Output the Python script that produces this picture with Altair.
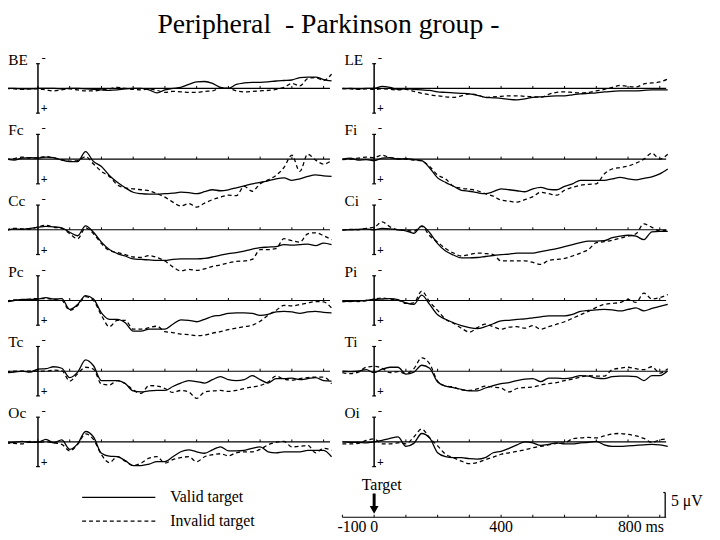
import altair as alt
import pandas as pd

# ---------------- data (µV, positive = downward as in the figure) ----------------
T_MS = [-100, -75, -50, -25, 0, 25, 50, 75, 100, 125, 150, 175, 200, 225, 250, 275,
        300, 325, 350, 375, 400, 425, 450, 475, 500, 525, 550, 575, 600, 625, 650, 675,
        700, 725, 750, 775, 800, 825, 850, 875, 900, 925]

LEFT_CHANNELS = ["BE", "Fc", "Cc", "Pc", "Tc", "Oc"]
RIGHT_CHANNELS = ["LE", "Fi", "Ci", "Pi", "Ti", "Oi"]

BE_valid = [0, 0, 0.1, 0.1, 0, 0, 0, 0.1,
            0, 0, 0.1, 0.2, 0.3, 0.4, 0.3, 0.1,
            0, 0, 0.3, 0.9, 0.3, 0, -0.2, -0.8,
            -1.3, -1.4, -1.0, -0.2, 0, -0.8, -1.1, -1.2,
            -1.2, -1.3, -1.5, -1.6, -1.7, -2.2, -2.3, -2.3, -1.8, -1.5]
BE_invalid = [0, 0.1, 0.2, 0.1, 0.1, 0.3, 0.5, 0.3,
              0.1, 0.3, 0.5, 0.5, 0.3, 0.1, -0.2, 0,
              0.2, 0.3, 0.1, 0.4, 0.8, 0.6, 0.7, 0.8,
              0.8, 0.6, 0.5, -0.1, 0, 0.5, 0.7, 0.6,
              0.5, 0.4, 0.2, -0.2, -1.0, -0.5, -2.0, -2.2, -1.6, -2.9]
Fc_valid = [0, 0.2, -0.2, -0.3, -0.2, -0.4, -0.3, 0.2,
            0.5, 0.5, -1.5, 0.5, 1.5, 3.3, 4.7, 5.8,
            6.7, 7.0, 7.1, 7.1, 7.0, 6.9, 6.7, 6.8,
            7.0, 6.6, 6.2, 6.4, 6.2, 5.8, 5.4, 5.0,
            4.7, 4.4, 4.0, 3.8, 4.3, 4.0, 3.5, 3.2, 3.4, 3.5]
Fc_invalid = [0.1, -0.1, -0.4, -0.2, -0.3, -0.5, -0.2, 0.1,
              0.4, 0.3, -0.5, 1.0, 2.5, 3.5, 5.2, 5.8,
              6.0, 6.2, 6.4, 7.0, 7.7, 8.7, 9.5, 9.0,
              9.7, 8.9, 8.2, 7.7, 7.3, 7.4, 5.5, 6.5,
              5.0, 4.2, 3.3, 1.7, -0.8, 2.5, -1.0, 0.2, 1.0, 0.3]
Cc_valid = [0.2, -0.2, -0.1, -0.3, -0.5, -0.7, -0.6, -0.4,
            0.5, 1.2, -0.8, 0.5, 2.5, 4.0, 4.8, 5.3,
            5.9, 6.0, 6.1, 6.2, 6.2, 6.0, 5.9, 5.9,
            5.9, 5.8, 5.5, 5.1, 4.8, 4.6, 4.3, 3.9,
            3.6, 3.5, 3.4, 3.0, 3.1, 3.0, 2.9, 3.2, 2.7, 3.0]
Cc_invalid = [0, -0.3, -0.2, -0.1, -0.6, -0.9, -0.5, -0.3,
              0.8, 1.8, -0.4, 0.8, 2.8, 4.2, 4.6, 5.0,
              5.5, 5.6, 5.2, 5.6, 6.3, 7.5, 8.3, 8.0,
              8.2, 7.9, 7.4, 7.1, 6.7, 6.4, 6.3, 6.0,
              4.0, 4.0, 3.8, 1.8, 2.2, 2.5, 0.8, 0.6, 1.2, 2.0]
Pc_valid = [0.3, 0, -0.2, -0.2, -0.3, -0.6, -0.3, -0.4,
            1.8, 0.8, -1.0, -0.3, 2.5, 3.8, 3.8, 4.5,
            6.2, 6.2, 5.8, 5.8, 5.8, 4.8, 3.9, 4.0,
            4.3, 3.8, 3.2, 3.0, 2.6, 2.5, 2.5, 2.6,
            3.0, 2.8, 2.3, 2.2, 2.3, 2.6, 2.3, 2.2, 2.4, 2.5]
Pc_invalid = [0.2, -0.1, -0.1, -0.3, -0.4, -0.4, -0.2, 0,
              2.0, 1.0, -0.8, 0, 3.0, 5.3, 4.0, 4.0,
              5.8, 5.8, 5.5, 5.2, 6.3, 6.5, 6.8, 6.9,
              7.1, 7.0, 6.6, 6.3, 5.9, 5.6, 5.3, 5.0,
              4.2, 3.0, 2.0, 1.0, 1.1, 0.8, 0.5, 0.2, 0.3, 1.5]
Tc_valid = [0.3, 0.2, 0, 0.2, -0.4, -0.5, -0.9, -0.6,
            1.3, 0.2, -2.3, -1.1, 1.9, 1.9, 1.9, 2.5,
            4.0, 4.2, 4.0, 3.9, 3.9, 3.1, 2.4, 1.9,
            2.1, 2.4, 1.7, 1.1, 1.7, 1.9, 1.7, 0.9,
            1.7, 2.4, 1.5, 1.5, 1.4, 1.7, 1.5, 1.3, 1.9, 2.0]
Tc_invalid = [0.1, 0, 0, 0, 0, 0, -0.2, -0.1,
              2.0, 0.5, -0.8, -0.4, 2.6, 2.8, 1.9, 2.5,
              3.8, 4.5, 2.9, 3.0, 3.5, 4.3, 3.9, 4.2,
              5.5, 4.2, 4.0, 3.9, 4.1, 3.9, 3.5, 3.2,
              2.9, 2.2, 1.0, 1.6, 1.8, 1.5, 1.3, 1.2, 1.2, 2.5]
Oc_valid = [0.2, 0.1, -0.1, 0.1, 0.1, -0.5, 0.2, -0.4,
            1.5, 0.4, -2.1, -1.0, 2.3, 2.9, 3.0, 3.8,
            4.8, 4.8, 4.5, 4.0, 4.0, 3.0, 2.0, 1.6,
            2.0, 2.3, 1.6, 1.0, 1.8, 1.8, 1.7, 1.3,
            1.0, 2.0, 2.2, 2.0, 2.0, 2.0, 1.7, 1.7, 1.7, 3.0]
Oc_invalid = [0.2, 0.3, 0.4, -0.1, 0.1, 0, 0.2, 0.5,
              1.8, 0.5, -1.6, -0.5, 2.6, 4.2, 3.0, 3.9,
              4.8, 4.3, 3.3, 3.0, 4.3, 3.6, 3.2, 3.0,
              4.0, 3.0, 2.6, 2.4, 2.8, 2.2, 2.0, 2.0,
              1.5, 0.6, 0.1, -0.1, 1.0, 0.9, 0.7, 2.2, 1.3, 1.7]
LE_valid = [0.1, 0, 0.1, 0, 0, -0.4, -0.2, 0.2,
            0.1, 0.2, 0.3, 0.4, 0.7, 0.8, 0.9, 1.0,
            1.1, 1.4, 1.8, 1.9, 2.0, 2.2, 2.3, 2.1,
            1.8, 1.7, 1.6, 1.5, 1.5, 1.3, 1.1, 1.0,
            0.9, 0.7, 0.6, 0.5, 0.5, 0.5, 0.4, 0.3, 0.3, 0.3]
LE_invalid = [0, 0.1, 0.2, 0.1, 0.2, 0.1, 0.2, 0.3,
              0.2, 0.6, 1.0, 1.3, 1.5, 1.7, 1.8, 1.5,
              1.1, 1.3, 1.8, 1.7, 1.6, 1.5, 1.5, 1.6,
              1.7, 1.8, 1.2, 0.8, 0.7, 0.8, 0.9, 0.8,
              0.5, 0.2, -0.2, -0.6, -0.4, -0.3, -0.9, -1.1, -1.3, -1.9]
Fi_valid = [0, -0.2, 0.2, 0.1, 0.3, -0.2, -0.3, 0,
            -0.1, 0.1, 0.3, 1.8, 3.8, 4.7, 5.5, 6.3,
            6.5, 6.8, 7.0, 6.6, 6.0, 6.2, 6.4, 6.6,
            6.0, 5.7, 6.1, 6.2, 5.5, 5.0, 4.3, 4.3,
            4.3, 4.3, 4.0, 3.7, 4.0, 4.2, 3.9, 3.6, 3.0, 2.0]
Fi_invalid = [0.1, 0, -0.2, -0.4, -0.3, -0.8, -0.3, -0.1,
              0, 0.2, 0.4, 1.5, 3.2, 4.0, 5.5, 5.9,
              6.1, 6.4, 7.0, 7.5, 8.3, 8.5, 8.7, 8.2,
              7.6, 6.7, 7.0, 7.3, 6.3, 5.7, 5.3, 5.1,
              5.0, 3.0, 2.0, 1.7, 1.4, 0.8, 0, -1.2, 0.0, -1.0]
Ci_valid = [0, 0, -0.1, -0.2, 0, -0.3, -0.2, 0,
            0.2, 0.7, -0.8, 0.6, 2.8, 4.3, 5.1, 5.7,
            5.7, 5.6, 5.4, 5.2, 5.0, 4.9, 4.7, 4.7,
            4.7, 4.4, 4.1, 3.8, 3.4, 3.0, 2.6, 2.3,
            2.3, 2.2, 1.6, 1.3, 1.1, 1.3, 2.0, 0.4, 0.3, 0.3]
Ci_invalid = [0.1, -0.1, 0, -0.3, -0.5, -1.6, -0.6, 0,
              0.1, 0.3, -0.7, 1.2, 2.5, 3.8, 4.7, 5.3,
              5.0, 4.7, 4.8, 5.0, 6.3, 6.3, 6.3, 6.3,
              6.6, 7.0, 6.2, 6.0, 5.8, 5.3, 4.7, 4.0,
              2.6, 2.4, 2.1, 1.7, 1.3, 0.8, -1.2, -0.5, 0.2, 0]
Pi_valid = [0.1, 0.2, 0.1, 0, -0.2, -0.3, -0.4, -0.2,
            0.5, 0.8, -1.1, 0.8, 2.9, 3.8, 4.5, 5.1,
            5.5, 5.7, 5.3, 4.7, 4.1, 4.0, 3.8, 3.7,
            3.5, 3.3, 3.1, 3.1, 3.1, 2.8, 2.2, 2.0,
            1.9, 1.8, 1.9, 2.1, 1.8, 1.5, 2.1, 1.6, 1.2, 0.8]
Pi_invalid = [0.3, 0.1, 0.2, 0, -0.3, -0.5, -0.3, -0.1,
              0.6, 0.5, -1.9, 0.3, 2.0, 3.8, 4.6, 5.6,
              6.4, 5.5, 4.8, 5.3, 5.8, 5.4, 5.3, 5.6,
              5.1, 5.8, 5.3, 4.8, 4.3, 3.6, 2.9, 2.2,
              1.4, 0.8, 0.6, 0.4, -0.2, 0.4, -1.5, -0.3, -0.6, -1.2]
Ti_valid = [0, 0.1, 0, -0.3, 0.3, -0.4, -0.8, -0.8,
            0.6, 0.2, -1.2, -0.6, 2.2, 3.0, 3.3, 3.7,
            4.0, 4.0, 3.4, 2.9, 2.5, 2.3, 1.9, 1.6,
            1.5, 2.1, 1.4, 1.4, 1.5, 1.3, 0.9, 1.0,
            1.4, 1.5, 1.1, 1.0, 1.0, 1.1, 1.9, 0.9, 0.9, -0.1]
Ti_invalid = [0.3, 0.5, 0.2, -0.8, -1.0, -0.6, 0.3, 0.1,
              0.5, -0.5, -2.7, -1.5, 2.0, 3.0, 3.2, 3.8,
              3.9, 3.6, 3.0, 3.2, 3.4, 4.2, 3.5, 3.3,
              3.2, 2.8, 2.5, 2.3, 1.9, 1.6, 1.2, 0.9,
              1.0, 1.0, -0.3, -0.6, -0.8, -0.5, -0.3, -0.9, 0.4, -0.5]
Oi_valid = [0, 0.1, 0.1, 0.2, 0, -0.3, -0.7, -1.0,
            0.9, 0.3, -1.7, -0.8, 2.2, 3.0, 3.2, 3.2,
            3.4, 3.5, 3.2, 2.2, 1.9, 1.3, 0.6, 0,
            0.2, 0.7, 0.5, 0.2, 0.4, 0.4, 0.2, 0.1,
            -0.1, 0.6, 0.9, 0.9, 0.8, 0.7, 0.6, 0.5, 0.6, 0.9]
Oi_invalid = [0.4, 0.4, 0.3, -0.3, -0.6, 0.4, 0.4, 0.2,
              0.4, -1.0, -2.6, -0.8, 0.8, 2.5, 3.2, 3.9,
              4.4, 4.2, 3.6, 3.1, 2.5, 2.2, 1.9, 1.6,
              1.2, 0.9, 0.6, 0.3, 0.2, -0.6, -0.8, -0.9,
              -0.8, -1.2, -1.6, -1.7, -1.5, -1.2, -0.7, 0.1, -0.4, -0.6]

VALID = {"BE": BE_valid, "Fc": Fc_valid, "Cc": Cc_valid, "Pc": Pc_valid, "Tc": Tc_valid, "Oc": Oc_valid,
         "LE": LE_valid, "Fi": Fi_valid, "Ci": Ci_valid, "Pi": Pi_valid, "Ti": Ti_valid, "Oi": Oi_valid}
INVALID = {"BE": BE_invalid, "Fc": Fc_invalid, "Cc": Cc_invalid, "Pc": Pc_invalid, "Tc": Tc_invalid,
           "Oc": Oc_invalid, "LE": LE_invalid, "Fi": Fi_invalid, "Ci": Ci_invalid, "Pi": Pi_invalid,
           "Ti": Ti_invalid, "Oi": Oi_invalid}

PANEL_TICKS_MS = [0, 100, 200, 300, 400, 500, 600, 700, 800, 900]
AXIS_TICKS_MS = [-100, 0, 100, 200, 300, 400, 500, 600, 700, 800, 900]
EPOCH = (-100, 920)
SCALE_UV = 5
TITLE = "Peripheral\u00a0\u00a0- Parkinson group -"

# ---------------- layout ----------------
W, H = 712, 532
ORIGIN = 8
PX_MS = 0.321
PX_UV = 5.0
COL_ZERO_PX = [38.3, 378.3]
ROW0_PX, ROW_STEP_PX = 86.3, 71.5
FONT = "Liberation Serif"
FS = 16


def xu(px):
    return (px - COL_ZERO_PX[0]) / PX_MS


def yu(py):
    return (py - ORIGIN) / PX_UV


COL_OFF = (COL_ZERO_PX[1] - COL_ZERO_PX[0]) / PX_MS


def base(r):
    return yu(ROW0_PX + r * ROW_STEP_PX)


XSC = alt.Scale(domain=[xu(ORIGIN), xu(ORIGIN + W)], nice=False, zero=False)
YSC = alt.Scale(domain=[0, H / PX_UV], reverse=True, nice=False, zero=False)
X = alt.X("x:Q", scale=XSC, axis=None)
Y = alt.Y("y:Q", scale=YSC, axis=None)

panels = []
for c, chans in enumerate([LEFT_CHANNELS, RIGHT_CHANNELS]):
    for r, ch in enumerate(chans):
        panels.append((c, r, ch))

rows = []
for c, r, ch in panels:
    for cond, src in (("valid", VALID), ("invalid", INVALID)):
        vals = src[ch]
        assert len(vals) == len(T_MS)
        for t, v in zip(T_MS, vals):
            rows.append({"ch": ch, "cond": cond, "t": t,
                         "x": t + c * COL_OFF, "y": base(r) + v})
lines = pd.DataFrame(rows)

base_df = pd.DataFrame([{"x": EPOCH[0] + c * COL_OFF, "x2": EPOCH[1] + c * COL_OFF, "y": base(r)}
                        for c, r, ch in panels])
tick_df = pd.DataFrame([{"x": t + c * COL_OFF, "y": base(r), "y2": base(r) - 0.5}
                        for c, r, ch in panels for t in PANEL_TICKS_MS])
vax_df = pd.DataFrame([{"x": c * COL_OFF, "y": base(r) - SCALE_UV, "y2": base(r) + SCALE_UV}
                       for c, r, ch in panels])
cap_df = pd.DataFrame([{"x": c * COL_OFF - 6, "x2": c * COL_OFF + 6, "y": base(r) + s * SCALE_UV}
                       for c, r, ch in panels for s in (-1, 1)])
lab_df = pd.DataFrame([{"x": xu(ORIGIN) + c * COL_OFF + 1, "y": base(r) - 5.8, "label": ch}
                       for c, r, ch in panels])
minus_df = pd.DataFrame([{"x": 11 + c * COL_OFF, "y": base(r) - 6.2, "label": "-"}
                         for c, r, ch in panels])
plus_df = pd.DataFrame([{"x": 9 + c * COL_OFF, "y": base(r) + 4.0, "label": "+"}
                        for c, r, ch in panels])

line_kw = dict(color="black", strokeWidth=1.3, interpolate="monotone")
valid_layer = alt.Chart(lines).transform_filter(alt.datum.cond == "valid").mark_line(**line_kw).encode(
    x=X, y=Y, detail="ch:N", order="t:Q")
invalid_layer = alt.Chart(lines).transform_filter(alt.datum.cond == "invalid").mark_line(
    strokeDash=[4, 3], **line_kw).encode(x=X, y=Y, detail="ch:N", order="t:Q")

base_layer = alt.Chart(base_df).mark_rule(color="black", strokeWidth=1.1).encode(x=X, x2="x2:Q", y=Y)
tick_layer = alt.Chart(tick_df).mark_rule(color="black", strokeWidth=1).encode(x=X, y=Y, y2="y2:Q")
vax_layer = alt.Chart(vax_df).mark_rule(color="black", strokeWidth=1.5).encode(x=X, y=Y, y2="y2:Q")
cap_layer = alt.Chart(cap_df).mark_rule(color="black", strokeWidth=1.2).encode(x=X, x2="x2:Q", y=Y)
lab_layer = alt.Chart(lab_df).mark_text(font=FONT, fontSize=15.5, align="left", baseline="middle",
                                        color="black").encode(x=X, y=Y, text="label:N")
minus_layer = alt.Chart(minus_df).mark_text(font=FONT, fontSize=13, align="left", baseline="middle",
                                            color="black").encode(x=X, y=Y, text="label:N")
plus_layer = alt.Chart(plus_df).mark_text(font=FONT, fontSize=12, fontWeight="bold", align="left",
                                          baseline="middle", color="black").encode(x=X, y=Y, text="label:N")

# legend
leg_lines = pd.DataFrame([
    {"x": xu(83), "x2": xu(157), "y": yu(500), "cond": "valid"},
    {"x": xu(83), "x2": xu(157), "y": yu(524), "cond": "invalid"},
])
leg_text = pd.DataFrame([
    {"x": xu(172), "y": yu(500), "label": "Valid target"},
    {"x": xu(172), "y": yu(524), "label": "Invalid target"},
])
leg_valid = alt.Chart(leg_lines).transform_filter(alt.datum.cond == "valid").mark_rule(
    color="black", strokeWidth=1.3).encode(x=X, x2="x2:Q", y=Y)
leg_invalid = alt.Chart(leg_lines).transform_filter(alt.datum.cond == "invalid").mark_rule(
    color="black", strokeWidth=1.3, strokeDash=[4, 3]).encode(x=X, x2="x2:Q", y=Y)
leg_txt = alt.Chart(leg_text).mark_text(font=FONT, fontSize=FS, align="left", baseline="middle",
                                        color="black").encode(x=X, y=Y, text="label:N")

# time axis (under right column)
AX_Y = yu(520)
ax_line = pd.DataFrame([{"x": EPOCH[0] + COL_OFF, "x2": EPOCH[1] + COL_OFF, "y": AX_Y}])
ax_ticks = pd.DataFrame([{"x": t + COL_OFF, "y": AX_Y, "y2": AX_Y - 0.5} for t in AXIS_TICKS_MS])
ax_labels_c = pd.DataFrame([{"x": t + COL_OFF, "y": yu(530), "label": s} for t, s in ((0, "0"), (400, "400"))])
ax_labels_r = pd.DataFrame([{"x": -24 + COL_OFF, "y": yu(530), "label": "-100"}])
ax_labels_l = pd.DataFrame([{"x": 768 + COL_OFF, "y": yu(530), "label": "800 ms"}])
axl = alt.Chart(ax_line).mark_rule(color="black", strokeWidth=1.2).encode(x=X, x2="x2:Q", y=Y)
axt = alt.Chart(ax_ticks).mark_rule(color="black", strokeWidth=1).encode(x=X, y=Y, y2="y2:Q")
axlc = alt.Chart(ax_labels_c).mark_text(font=FONT, fontSize=FS, align="center", baseline="middle",
                                        color="black").encode(x=X, y=Y, text="label:N")
axlr = alt.Chart(ax_labels_r).mark_text(font=FONT, fontSize=FS, align="right", baseline="middle",
                                        color="black").encode(x=X, y=Y, text="label:N")
axll = alt.Chart(ax_labels_l).mark_text(font=FONT, fontSize=FS, align="left", baseline="middle",
                                        color="black").encode(x=X, y=Y, text="label:N")

# target arrow
tgt_text = pd.DataFrame([{"x": 24 + COL_OFF, "y": yu(487), "label": "Target"}])
tgt_shaft = pd.DataFrame([{"x": COL_OFF, "y": yu(496), "y2": yu(509)}])
tgt_head = pd.DataFrame([{"x": COL_OFF, "y": yu(512.5)}])
tt = alt.Chart(tgt_text).mark_text(font=FONT, fontSize=FS, align="center", baseline="middle",
                                   color="black").encode(x=X, y=Y, text="label:N")
ts = alt.Chart(tgt_shaft).mark_rule(color="black", strokeWidth=3).encode(x=X, y=Y, y2="y2:Q")
th = alt.Chart(tgt_head).mark_point(shape="triangle-down", filled=True, size=80, color="black",
                                    opacity=1).encode(x=X, y=Y)

# 5 µV calibration bar
CAL_T = 917 + COL_OFF
cal_bar = pd.DataFrame([{"x": CAL_T, "y": AX_Y, "y2": AX_Y - SCALE_UV}])
cal_cap = pd.DataFrame([{"x": CAL_T - 6, "x2": CAL_T, "y": AX_Y - SCALE_UV}])
cal_txt = pd.DataFrame([{"x": CAL_T + 18, "y": yu(504), "label": "5 \u03bcV"}])
cb = alt.Chart(cal_bar).mark_rule(color="black", strokeWidth=1.3).encode(x=X, y=Y, y2="y2:Q")
cc = alt.Chart(cal_cap).mark_rule(color="black", strokeWidth=1.2).encode(x=X, x2="x2:Q", y=Y)
ct = alt.Chart(cal_txt).mark_text(font=FONT, fontSize=FS, align="left", baseline="middle",
                                  color="black").encode(x=X, y=Y, text="label:N")

# title
title_df = pd.DataFrame([{"x": xu(332), "y": yu(30.5), "label": TITLE}])
title = alt.Chart(title_df).mark_text(font=FONT, fontSize=28, align="center", baseline="alphabetic",
                                      color="black").encode(x=X, y=Y, text="label:N")

chart = alt.layer(
    base_layer, tick_layer, vax_layer, cap_layer,
    valid_layer, invalid_layer,
    lab_layer, minus_layer, plus_layer,
    leg_valid, leg_invalid, leg_txt,
    axl, axt, axlc, axlr, axll, tt, ts, th, cb, cc, ct, title,
).properties(
    width=W, height=H, padding=0,
    autosize=alt.AutoSizeParams(type="none"),
    background="white",
).configure_view(stroke=None)

chart.save("out.html", embed_options={"renderer": "svg", "actions": False})
